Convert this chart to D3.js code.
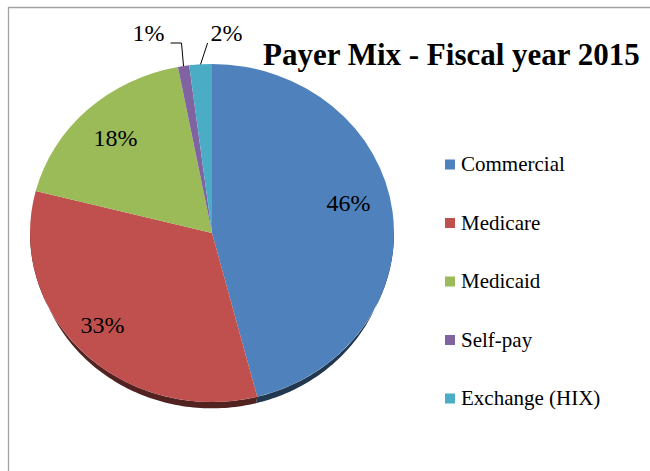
<!DOCTYPE html>
<html>
<head>
<meta charset="utf-8">
<script src="https://cdn.jsdelivr.net/npm/d3@7/dist/d3.min.js"></script>
<style>
  html, body { margin: 0; padding: 0; background: #fff; }
  svg { display: block; }
</style>
</head>
<body>
<script>
// Payer mix shares (percent of total) for fiscal year 2015
const categories = ["Commercial", "Medicare", "Medicaid", "Self-pay", "Exchange (HIX)"];
const shares = [46, 33, 18, 1, 2];
const sliceColors = ["#4F81BD", "#C0504D", "#9BBB59", "#8064A2", "#4BACC6"];
const chartTitle = "Payer Mix - Fiscal year 2015";

// Label placement: inside labels sit along the slice's mid-angle (with a small
// angular nudge), the two thin slices get outside labels with leader lines.
const labelLayout = [
  { inside: true, nudge: -6, r: 0.77 },
  { inside: true, nudge: 3, r: 0.81 },
  { inside: true, nudge: 0, r: 0.775 },
  { inside: false, side: "left" },
  { inside: false, side: "right" }
];

const W = 650, H = 471;
const cx = 212, cy = 233, rx = 182, ry = 169;
// the base rim is dropped and pulled in a little, as seen in perspective
const depth = 11, baseInset = 5;

const serif = "'Liberation Serif', 'Times New Roman', Times, serif";

const svg = d3.select("body").append("svg")
  .attr("width", W).attr("height", H)
  .attr("font-family", serif);

// chart-area frame
svg.append("path")
  .attr("d", `M8.5,${H} V7.5 H${W}`)
  .attr("fill", "none")
  .attr("stroke", "#a3a3a3")
  .attr("stroke-width", 1.3);

const data = categories.map((c, i) => ({ name: c, value: shares[i], color: sliceColors[i], i }));
const pie = d3.pie().sort(null).value(d => d.value).startAngle(0).endAngle(2 * Math.PI);
const arcsData = pie(data);

// point on the tilted (elliptical) rim for a pie angle measured clockwise from 12 o'clock
const rim = (a, r = 1) => [cx + rx * r * Math.sin(a), cy - ry * r * Math.cos(a)];
const baseRim = a => [cx + (rx - baseInset) * Math.sin(a), cy + depth - (ry - baseInset * ry / rx) * Math.cos(a)];

// visible outer wall (front half of the disc)
const walls = svg.append("g");
arcsData.forEach(s => {
  const a0 = Math.max(s.startAngle, Math.PI / 2);
  const a1 = Math.min(s.endAngle, 3 * Math.PI / 2);
  if (a0 >= a1) return;
  const steps = Math.max(8, Math.ceil((a1 - a0) / 0.02));
  const angles = d3.range(steps + 1).map(k => a0 + (a1 - a0) * k / steps);
  const pts = angles.map(a => rim(a)).concat(angles.slice().reverse().map(a => baseRim(a)));
  const p = d3.path();
  pts.forEach((pt, k) => k ? p.lineTo(pt[0], pt[1]) : p.moveTo(pt[0], pt[1]));
  p.closePath();
  walls.append("path")
    .attr("d", p.toString())
    .attr("fill", d3.color(s.data.color).darker(2.4).formatHex());
});

// top faces
const arc = d3.arc().innerRadius(0).outerRadius(rx);
svg.append("g")
  .attr("transform", `translate(${cx},${cy}) scale(1,${ry / rx})`)
  .selectAll("path")
  .data(arcsData)
  .join("path")
  .attr("d", arc)
  .attr("fill", d => d.data.color);

// percentage labels
const fmt = v => `${v}%`;
const labels = svg.append("g").attr("font-size", 24);
arcsData.forEach((s, i) => {
  const lay = labelLayout[i];
  const mid = (s.startAngle + s.endAngle) / 2;
  if (lay.inside) {
    const [x, y] = rim(mid + lay.nudge * Math.PI / 180, lay.r);
    labels.append("text")
      .attr("x", x).attr("y", y + 8)
      .attr("text-anchor", "middle")
      .text(fmt(s.data.value));
  } else {
    const [ex, ey] = rim(mid);
    const lineY = 43;
    let pts, tx, anchor;
    if (lay.side === "left") {
      pts = [[ex, ey], [ex - 2, lineY], [ex - 13, lineY]];
      tx = ex - 19; anchor = "end";
    } else {
      pts = [[ex, ey], [ex + 7, lineY]];
      tx = ex + 10; anchor = "start";
    }
    labels.append("path")
      .attr("d", d3.line()(pts))
      .attr("fill", "none")
      .attr("stroke", "#000")
      .attr("stroke-width", 1);
    labels.append("text")
      .attr("x", tx).attr("y", 41)
      .attr("text-anchor", anchor)
      .text(fmt(s.data.value));
  }
});

// title
svg.append("text")
  .attr("x", 263).attr("y", 65)
  .attr("font-size", 31)
  .attr("font-weight", "bold")
  .text(chartTitle);

// legend
const legend = svg.append("g").attr("transform", "translate(445,171)");
const rows = legend.selectAll("g").data(data).join("g")
  .attr("transform", (d, i) => `translate(0,${i * 58.5})`);
rows.append("rect")
  .attr("x", 0).attr("y", -11.5)
  .attr("width", 10).attr("height", 10)
  .attr("fill", d => d.color);
rows.append("text")
  .attr("x", 16).attr("y", 0)
  .attr("font-size", 21)
  .text(d => d.name);
</script>
</body>
</html>
